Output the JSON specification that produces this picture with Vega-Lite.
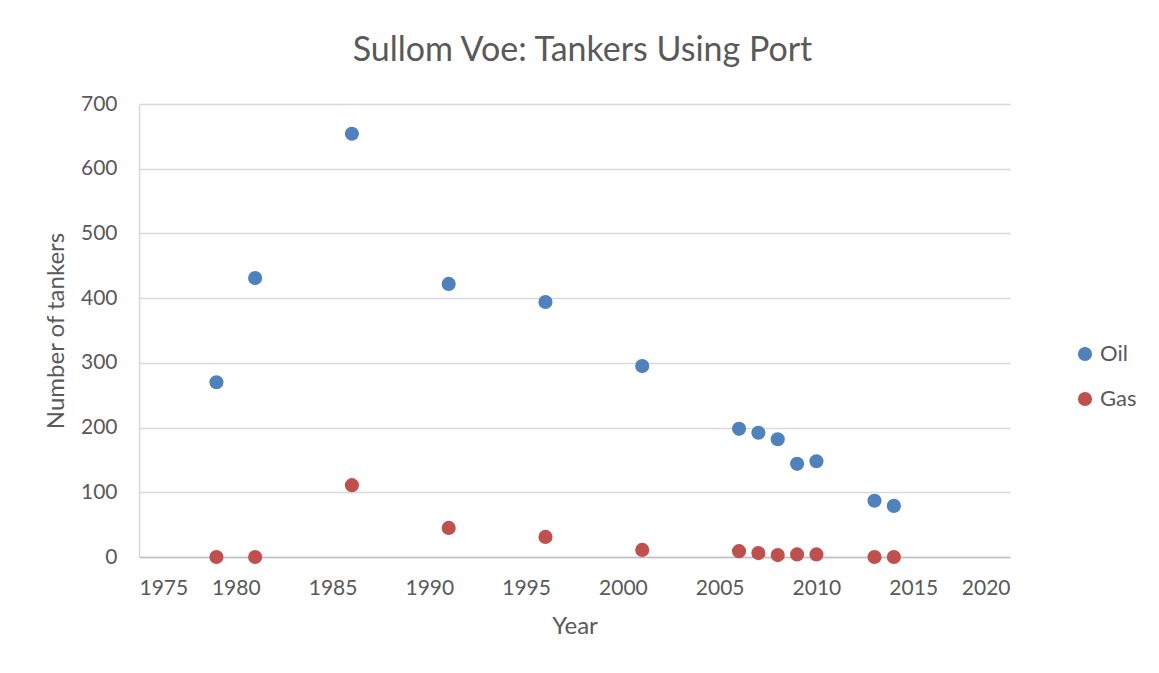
{
  "$schema": "https://vega.github.io/schema/vega-lite/v6.json",
  "autosize": "none",
  "width": 871,
  "height": 453,
  "padding": {"left": 139, "top": 104, "right": 149, "bottom": 116},
  "background": "white",
  "config": {
    "font": "Lato",
    "view": {"stroke": null},
    "axis": {"labelColor": "#595959", "titleColor": "#595959", "labelFontWeight": "normal", "titleFontWeight": "normal"}
  },
  "title": {
    "text": "Sullom Voe: Tankers Using Port",
    "fontSize": 34,
    "fontWeight": "normal",
    "color": "#595959",
    "anchor": "middle",
    "offset": 25,
    "dx": 8
  },
  "data": {
    "values": [
      {"Year": 1979, "Type": "Oil", "Tankers": 270},
      {"Year": 1981, "Type": "Oil", "Tankers": 431},
      {"Year": 1986, "Type": "Oil", "Tankers": 654},
      {"Year": 1991, "Type": "Oil", "Tankers": 422},
      {"Year": 1996, "Type": "Oil", "Tankers": 394},
      {"Year": 2001, "Type": "Oil", "Tankers": 295},
      {"Year": 2006, "Type": "Oil", "Tankers": 198},
      {"Year": 2007, "Type": "Oil", "Tankers": 192},
      {"Year": 2008, "Type": "Oil", "Tankers": 182},
      {"Year": 2009, "Type": "Oil", "Tankers": 144},
      {"Year": 2010, "Type": "Oil", "Tankers": 148},
      {"Year": 2013, "Type": "Oil", "Tankers": 87},
      {"Year": 2014, "Type": "Oil", "Tankers": 79},
      {"Year": 1979, "Type": "Gas", "Tankers": 0},
      {"Year": 1981, "Type": "Gas", "Tankers": 0},
      {"Year": 1986, "Type": "Gas", "Tankers": 111},
      {"Year": 1991, "Type": "Gas", "Tankers": 45},
      {"Year": 1996, "Type": "Gas", "Tankers": 31},
      {"Year": 2001, "Type": "Gas", "Tankers": 11},
      {"Year": 2006, "Type": "Gas", "Tankers": 9},
      {"Year": 2007, "Type": "Gas", "Tankers": 6},
      {"Year": 2008, "Type": "Gas", "Tankers": 3},
      {"Year": 2009, "Type": "Gas", "Tankers": 4},
      {"Year": 2010, "Type": "Gas", "Tankers": 4},
      {"Year": 2013, "Type": "Gas", "Tankers": 0},
      {"Year": 2014, "Type": "Gas", "Tankers": 0}
    ]
  },
  "mark": {"type": "circle", "size": 200, "opacity": 1},
  "encoding": {
    "x": {
      "field": "Year",
      "type": "quantitative",
      "scale": {"domain": [1975, 2020], "nice": false, "zero": false},
      "axis": {
        "values": [1975, 1980, 1985, 1990, 1995, 2000, 2005, 2010, 2015, 2020],
        "format": "d",
        "grid": false,
        "ticks": false,
        "domainColor": "#BFBFBF",
        "domainWidth": 1.5,
        "labelFontSize": 21,
        "labelPadding": 20,
        "title": "Year",
        "titleFontSize": 24,
        "titlePadding": 16
      }
    },
    "y": {
      "field": "Tankers",
      "type": "quantitative",
      "scale": {"domain": [0, 700], "nice": false},
      "axis": {
        "values": [0, 100, 200, 300, 400, 500, 600, 700],
        "grid": true,
        "gridColor": "#D9D9D9",
        "gridWidth": 1.5,
        "ticks": false,
        "domainColor": "#D9D9D9",
        "domainWidth": 1.5,
        "labelFontSize": 21,
        "labelPadding": 22,
        "title": "Number of tankers",
        "titleFontSize": 24,
        "titlePadding": 12
      }
    },
    "color": {
      "field": "Type",
      "type": "nominal",
      "scale": {"domain": ["Oil", "Gas"], "range": ["#4F81BD", "#C0504D"]},
      "legend": {
        "title": null,
        "orient": "none",
        "legendX": 935,
        "legendY": 239,
        "symbolType": "circle",
        "symbolSize": 200,
        "symbolOpacity": 1,
        "labelFontSize": 22,
        "labelColor": "#595959",
        "rowPadding": 23,
        "labelOffset": 4
      }
    }
  }
}
